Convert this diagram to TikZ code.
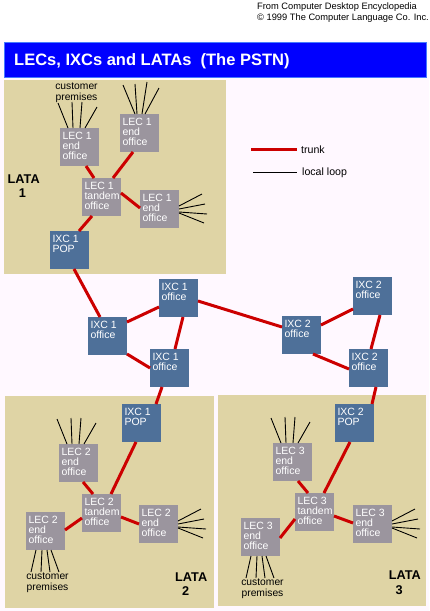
\documentclass[tikz,border=0pt]{standalone}
\usepackage{fontspec}
\setmainfont{Liberation Sans}
\usetikzlibrary{calc}
\definecolor{tanarea}{RGB}{223,212,165}
\definecolor{lecgray}{RGB}{155,149,158}
\definecolor{ixcblue}{RGB}{78,112,153}
\definecolor{trunkred}{RGB}{204,0,0}
\definecolor{bgpink}{RGB}{255,248,255}
\definecolor{titleblue}{RGB}{0,0,255}
\definecolor{titleedge}{RGB}{70,120,255}
\newcommand\bt[1]{\parbox[t][38pt][t]{39pt}{\raggedright\leftskip=2.5pt\rule{0pt}{11.8pt}#1}}
\newcommand\topfan[1]{\foreach \fa/\fb/\fc in {8/-2/-25,13/12/-26,20/22/-26,25/37/-21}
  {\draw[locloop] ($(#1.north west)+(\fa,0)$) -- ($(#1.north west)+(\fb,\fc)$);}}
\newcommand\rightfan[1]{\foreach \fa/\fb/\fc in {16/23/4,19/26/14,22/28/24,23/25/33}
  {\draw[locloop] ($(#1.north east)+(0,\fa)$) -- ($(#1.north east)+(\fb,\fc)$);}}
\newcommand\bottomfan[1]{\foreach \fa/\fb in {10/5,16/15,21/24,25/33}
  {\draw[locloop] ($(#1.south west)+(\fa,0)$) -- ($(#1.south west)+(\fb,22)$);}}
\tikzset{
  box/.style={inner sep=0pt, outer sep=0pt, anchor=north west, text=white, font=\fontsize{10.5}{10}\selectfont},
  lec/.style={box, fill=lecgray},
  ixc/.style={box, fill=ixcblue},
  trunk/.style={draw=trunkred, line width=3pt},
  locloop/.style={draw=black, line width=0.9pt},
  cust/.style={align=center, inner sep=0pt, font=\fontsize{10.3}{11}\selectfont},
  lata/.style={align=left, inner sep=0pt, anchor=north west, font=\bfseries\fontsize{12.7}{14.4}\selectfont},
}
\begin{document}
\begin{tikzpicture}[x=1pt,y=-1pt]
\useasboundingbox (0,0) rectangle (429,611);
\fill[white] (0,0) rectangle (429,611);
\fill[bgpink] (0,40) rectangle (429,611);
% title
\fill[titleblue, draw=titleedge, line width=1pt] (4.5,42.5) rectangle (426.5,77.5);
\node[anchor=base west, inner sep=0pt, text=white, font=\bfseries\fontsize{16.5}{18}\selectfont] (title) at (14,65) {LECs, IXCs and LATAs~ (The PSTN)};
\node[anchor=base west, inner sep=0pt, font=\fontsize{9.3}{10}\selectfont] (credit1) at (257,9) {From Computer Desktop Encyclopedia};
\node[anchor=base west, inner sep=0pt, font=\fontsize{9.3}{10}\selectfont] (credit2) at (257,20.7) {© 1999 The Computer Language Co. Inc.};
% LATA areas
\fill[tanarea] (4,80) rectangle (226,274);
\fill[tanarea] (5,396) rectangle (214,608);
\fill[tanarea] (218,395) rectangle (426,606);
% legend
\node[anchor=base west, inner sep=0pt, font=\fontsize{10.6}{12}\selectfont] (lgtrunk) at (301,153) {trunk};
\node[anchor=base west, inner sep=0pt, font=\fontsize{10.6}{12}\selectfont] (lgloop) at (302,175) {local loop};
\coordinate (lgt0) at (251,149);
\coordinate (lgt1) at (297,149);
\coordinate (lgl0) at (253,172);
\coordinate (lgl1) at (297,172);
\draw[trunk] (lgt0) -- (lgt1);
\draw[locloop] (lgl0) -- (lgl1);
% LATA labels
\node[lata] (lata1) at (7.5,174.3) {LATA\\\hspace*{11.3pt}1};
\node[lata] (lata2) at (175,572.3) {LATA\\\hspace*{6.8pt}2};
\node[lata] (lata3) at (388.6,571) {LATA\\\hspace*{6.9pt}3};
% boxes
\node[lec] (l1a) at (60,128) {\bt{LEC 1\\end\\office}};
\node[lec] (l1b) at (120,114) {\bt{LEC 1\\end\\office}};
\node[lec] (l1t) at (82,178) {\bt{LEC 1\\tandem\\office}};
\node[lec] (l1c) at (140,190) {\bt{LEC 1\\end\\office}};
\node[ixc] (p1) at (50,231) {\bt{IXC 1\\POP}};
\node[ixc] (x1a) at (88,317) {\bt{IXC 1\\office}};
\node[ixc] (x1b) at (159,279) {\bt{IXC 1\\office}};
\node[ixc] (x1c) at (150,349) {\bt{IXC 1\\office}};
\node[ixc] (x2a) at (282,316) {\bt{IXC 2\\office}};
\node[ixc] (x2b) at (353,277) {\bt{IXC 2\\office}};
\node[ixc] (x2c) at (349,349) {\bt{IXC 2\\office}};
\node[ixc] (p2) at (122,404) {\bt{IXC 1\\POP}};
\node[lec] (l2a) at (59,444) {\bt{LEC 2\\end\\office}};
\node[lec] (l2t) at (82,494) {\bt{LEC 2\\tandem\\office}};
\node[lec] (l2b) at (26,512) {\bt{LEC 2\\end\\office}};
\node[lec] (l2c) at (139,505) {\bt{LEC 2\\end\\office}};
\node[ixc] (p3) at (335,404) {\bt{IXC 2\\POP}};
\node[lec] (l3a) at (273,443) {\bt{LEC 3\\end\\office}};
\node[lec] (l3t) at (295,493) {\bt{LEC 3\\tandem\\office}};
\node[lec] (l3b) at (241,518) {\bt{LEC 3\\end\\office}};
\node[lec] (l3c) at (353,505) {\bt{LEC 3\\end\\office}};
% trunks
\draw[trunk] ($(l1a.south)+(6.5,0)$) -- ($(l1t.north)+(-7.5,0)$);
\draw[trunk] ($(l1b.south)+(-6.5,0)$) -- ($(l1t.north)+(11.5,0)$);
\draw[trunk] ($(l1t.east)+(0,-4)$) -- ($(l1c.west)+(0,-1)$);
\draw[trunk] ($(l1t.south)+(-9.5,0)$) -- ($(p1.north)+(9.5,0)$);
\draw[trunk] ($(p1.south)+(4.5,0)$) -- ($(x1a.north)+(-7.5,0)$);
\draw[trunk] ($(x1a.east)+(0,-14)$) -- ($(x1b.west)+(0,9)$);
\draw[trunk] ($(x1a.east)+(0,18)$) -- ($(x1c.west)+(0,0)$);
\draw[trunk] ($(x1b.south)+(4.5,0)$) -- ($(x1c.north)+(5.5,0)$);
\draw[trunk] ($(x1b.east)+(0,3)$) -- ($(x2a.west)+(0,-8)$);
\draw[trunk] ($(x2a.east)+(0,-10)$) -- ($(x2b.west)+(0,13)$);
\draw[trunk] ($(x2a.south)+(11.5,0)$) -- ($(x2c.west)+(0,1)$);
\draw[trunk] ($(x2b.south)+(7.5,0)$) -- ($(x2c.north)+(2.5,0)$);
\draw[trunk] ($(x1c.south)+(-7.5,0)$) -- ($(p2.north)+(14.5,0)$);
\draw[trunk] ($(x2c.south)+(7.5,0)$) -- ($(p3.north)+(17.5,0)$);
\draw[trunk] ($(p2.south)+(-5.5,0)$) -- ($(l2t.north)+(9.5,0)$);
\draw[trunk] ($(l2a.south)+(4.5,0)$) -- ($(l2t.north)+(-8.5,0)$);
\draw[trunk] ($(l2t.west)+(0,5)$) -- ($(l2b.east)+(0,-1)$);
\draw[trunk] ($(l2t.east)+(0,4)$) -- ($(l2c.west)+(0,0)$);
\draw[trunk] ($(p3.south)+(-4.5,0)$) -- ($(l3t.north)+(9.5,0)$);
\draw[trunk] ($(l3a.south)+(5.5,0)$) -- ($(l3t.north)+(-6.5,0)$);
\draw[trunk] ($(l3t.west)+(0,7)$) -- ($(l3b.east)+(0,1)$);
\draw[trunk] ($(l3t.east)+(0,4)$) -- ($(l3c.west)+(0,-1)$);
% local loops
\topfan{l1a}
\foreach \fa/\fb/\fc in {15/3/-29,17/15/-30,22/27/-32,25/39/-26}
  {\draw[locloop] ($(l1b.north west)+(\fa,0)$) -- ($(l1b.north west)+(\fb,\fc)$);}
\rightfan{l1c}
\topfan{l2a}
\bottomfan{l2b}
\rightfan{l2c}
\topfan{l3a}
\bottomfan{l3b}
\rightfan{l3c}
% customer premises
\node[cust] (cp1) at ($(l1a.north west)+(16.5,-35.5)$) {customer\\premises};
\node[cust] (cp2) at ($(l2b.south west)+(21.5,33)$) {customer\\premises};
\node[cust] (cp3) at ($(l3b.south west)+(21.5,33)$) {customer\\premises};
\end{tikzpicture}
\end{document}
